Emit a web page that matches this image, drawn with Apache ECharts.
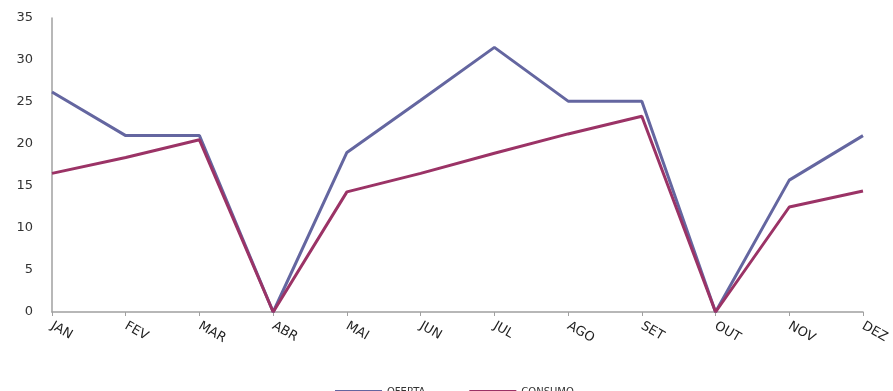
<!DOCTYPE html>
<html>
<head>
<meta charset="utf-8">
<script src="https://cdn.jsdelivr.net/npm/echarts@6/dist/echarts.min.js"></script>
<style>
  html, body { margin: 0; padding: 0; background: #fff; }
  #chart { width: 893px; height: 391px; }
</style>
</head>
<body>
<div id="chart"></div>
<script>
// dados
const meses = ["JAN", "FEV", "MAR", "ABR", "MAI", "JUN", "JUL", "AGO", "SET", "OUT", "NOV", "DEZ"];
const oferta = [26.2, 21.0, 21.0, 0, 19.0, 25.2, 31.5, 25.1, 25.1, 0, 15.7, 21.0];
const consumo = [16.5, 18.4, 20.5, 0, 14.3, 16.5, 18.9, 21.2, 23.3, 0, 12.5, 14.4];
const yTicks = [0, 5, 10, 15, 20, 25, 30, 35];

const corOferta = "#6466a0";
const corConsumo = "#9b3366";

const myChart = echarts.init(document.getElementById("chart"));

const options = {
  animation: false,
  textStyle: { fontFamily: "DejaVu Sans" },
  grid: { left: 52, right: 30, top: 18, bottom: 79 },
  legend: {
    left: 330,
    top: 382,
    itemWidth: 47,
    itemHeight: 4,
    itemGap: 44,
    textStyle: { fontSize: 10, color: "#333" },
    data: [
      { name: "OFERTA", icon: "rect", itemStyle: { color: corOferta, borderWidth: 0 } },
      { name: "CONSUMO", icon: "rect", itemStyle: { color: corConsumo, borderWidth: 0 } },
    ],
  },
  xAxis: {
    type: "category",
    data: meses,
    boundaryGap: false,
    axisLine: { lineStyle: { color: "#a0a0a0", width: 1.5 } },
    axisTick: { show: true, length: 4, lineStyle: { color: "#a0a0a0" } },
    axisLabel: { rotate: -30, margin: 13, fontSize: 13, color: "#222" },
  },
  yAxis: {
    type: "value",
    min: yTicks[0],
    max: yTicks[yTicks.length - 1],
    interval: 5,
    axisLine: { show: true, lineStyle: { color: "#a0a0a0", width: 1.5 } },
    axisTick: { show: false },
    splitLine: { show: false },
    axisLabel: { margin: 19, fontSize: 13, color: "#333" },
  },
  series: [
    {
      name: "OFERTA",
      type: "line",
      data: oferta,
      symbol: "none",
      lineStyle: { color: corOferta, width: 3 },
      itemStyle: { color: corOferta },
    },
    {
      name: "CONSUMO",
      type: "line",
      data: consumo,
      symbol: "none",
      lineStyle: { color: corConsumo, width: 3 },
      itemStyle: { color: corConsumo },
    },
  ],
};

myChart.setOption(options);
</script>
</body>
</html>
